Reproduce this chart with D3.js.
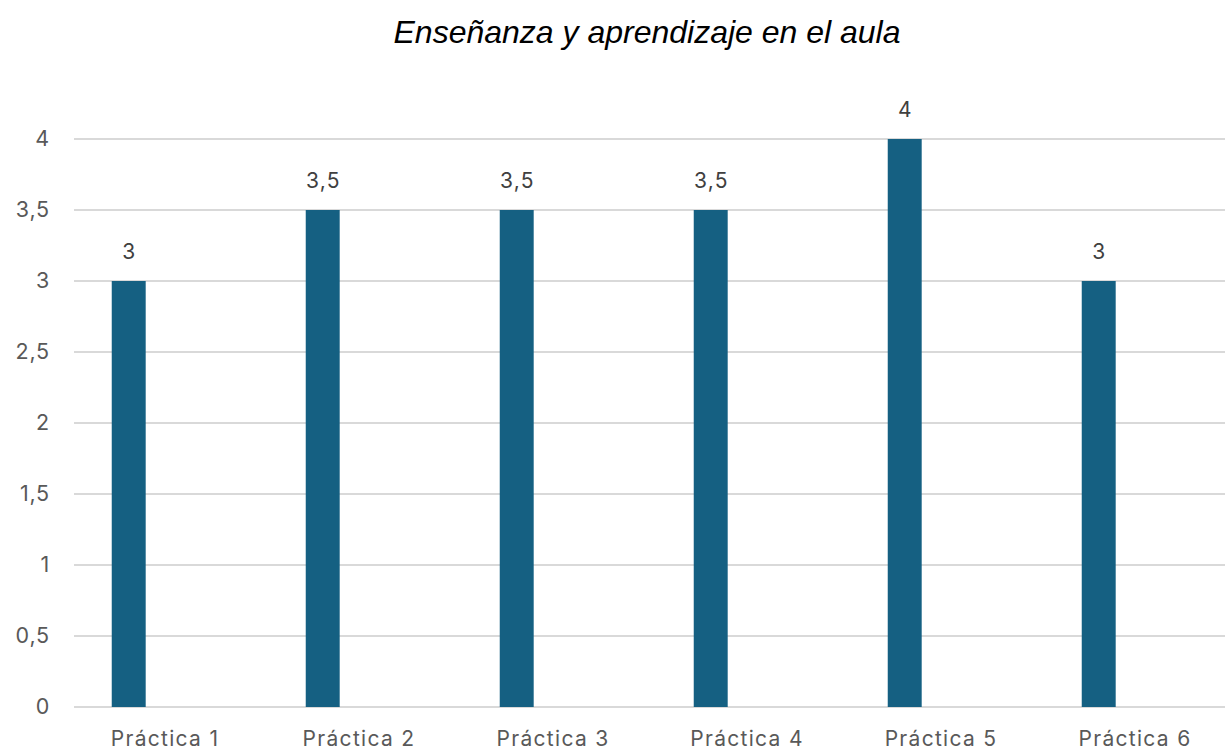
<!DOCTYPE html>
<html>
<head>
<meta charset="utf-8">
<script src="https://cdn.jsdelivr.net/npm/d3@7"></script>
<style>
  html, body { margin: 0; padding: 0; background: #fff; }
  svg { display: block; }
</style>
</head>
<body>
<svg id="chart" width="1225" height="751"></svg>
<script>
// Puntuación por práctica
const categories = ["Práctica 1", "Práctica 2", "Práctica 3", "Práctica 4", "Práctica 5", "Práctica 6"];
const values = [3, 3.5, 3.5, 3.5, 4, 3];
const yTicks = [0, 0.5, 1, 1.5, 2, 2.5, 3, 3.5, 4];
const title = "Enseñanza y aprendizaje en el aula";

const W = 1225, H = 751;
const svg = d3.select("#chart");
const fmt = v => String(v).replace(".", ",");
const labelFont = "Inter, 'Noto Sans', sans-serif";

const x = d3.scaleBand().domain(categories).range([71, 1235]).padding(0);
const y = d3.scaleLinear().domain([0, 4]).range([707, 139]);

// bar sits in the left part of each category slot
const barOffset = x.bandwidth() * 0.21;
const barWidth = x.bandwidth() * 0.175;

// title
svg.append("text")
  .attr("x", 647).attr("y", 43)
  .attr("text-anchor", "middle")
  .attr("font-family", "'Liberation Sans', Arial, sans-serif")
  .attr("font-style", "italic")
  .attr("font-size", 32)
  .attr("fill", "#000")
  .text(title);

// horizontal gridlines
svg.append("g").selectAll("line")
  .data(yTicks).join("line")
  .attr("x1", 74).attr("x2", W)
  .attr("y1", d => y(d)).attr("y2", d => y(d))
  .attr("stroke", "#d9d9d9").attr("stroke-width", 2);

// y axis labels
const yAxis = d3.axisLeft(y).tickValues(yTicks).tickFormat(fmt).tickSize(0).tickPadding(0);
const gy = svg.append("g").attr("transform", "translate(50,0)").call(yAxis);
gy.select(".domain").remove();
gy.selectAll("text")
  .attr("font-family", labelFont)
  .attr("font-size", 21.5)
  .attr("letter-spacing", 0.8)
  .attr("fill", "#595959");

// x axis labels
const xAxis = d3.axisBottom(x).tickSize(0).tickPadding(0);
const gx = svg.append("g").call(xAxis);
gx.select(".domain").remove();
gx.selectAll("text")
  .attr("dy", null)
  .attr("y", 746)
  .attr("dx", -3)
  .attr("font-family", labelFont)
  .attr("font-size", 21)
  .attr("letter-spacing", 1.3)
  .attr("fill", "#595959");

// bars
svg.append("g").selectAll("rect")
  .data(categories.map((c, i) => ({ c, v: values[i] })))
  .join("rect")
  .attr("x", d => x(d.c) + barOffset)
  .attr("width", barWidth)
  .attr("y", d => y(d.v))
  .attr("height", d => y(0) - y(d.v))
  .attr("fill", "#156082");

// value labels
svg.append("g").selectAll("text")
  .data(categories.map((c, i) => ({ c, v: values[i] })))
  .join("text")
  .attr("x", d => x(d.c) + barOffset + barWidth / 2 + 0.6)
  .attr("y", d => y(d.v) - 22)
  .attr("text-anchor", "middle")
  .attr("font-family", labelFont)
  .attr("font-size", 21)
  .attr("letter-spacing", 1.2)
  .attr("fill", "#404040")
  .text(d => fmt(d.v));
</script>
</body>
</html>
